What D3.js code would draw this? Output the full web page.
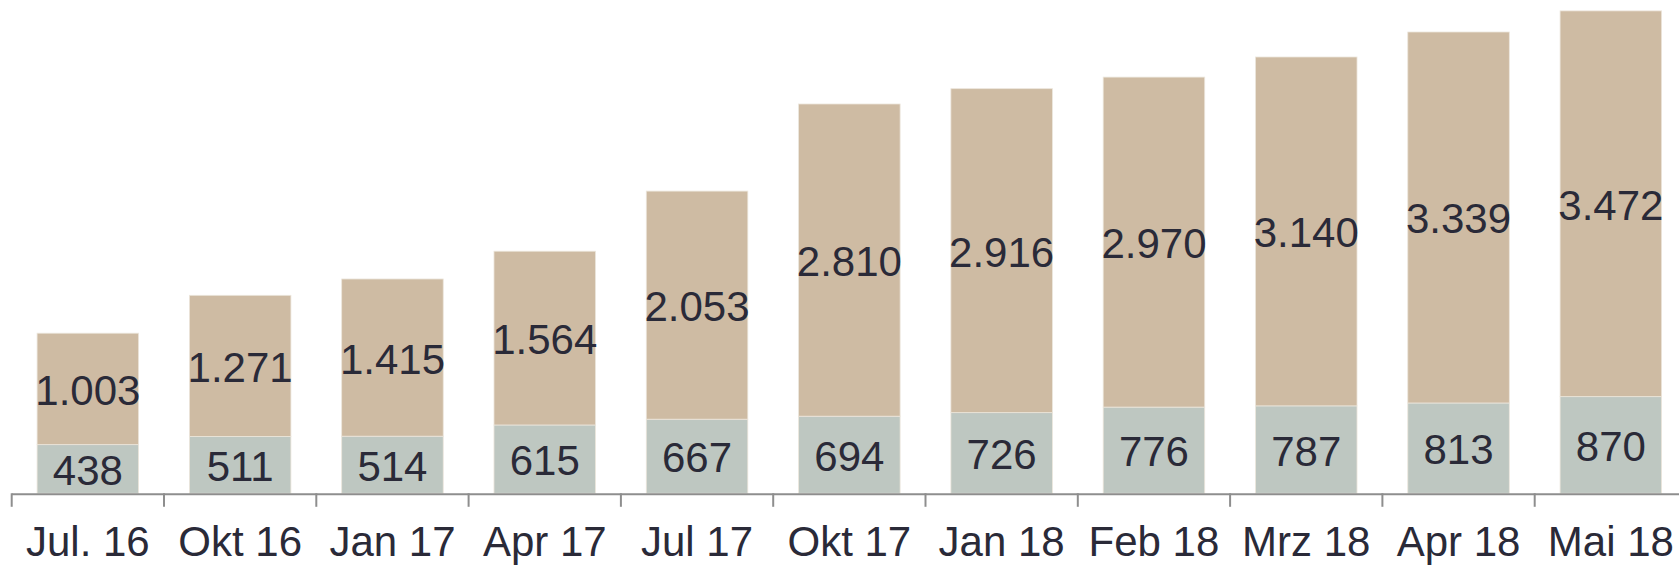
<!DOCTYPE html>
<html>
<head>
<meta charset="utf-8">
<script src="https://cdn.jsdelivr.net/npm/d3@7"></script>
<style>
    html, body { margin: 0; padding: 0; background: #fff; }
    svg { display: block; }
    text { font-family: "Liberation Sans", Arial, sans-serif; fill: #2a2a38; }
</style>
</head>
<body>
<div id="chart"></div>
<script>
// data
var categories = ["Jul. 16", "Okt 16", "Jan 17", "Apr 17", "Jul 17", "Okt 17", "Jan 18", "Feb 18", "Mrz 18", "Apr 18", "Mai 18"];
var lowerValues = [438, 511, 514, 615, 667, 694, 726, 776, 787, 813, 870];
var upperValues = [1003, 1271, 1415, 1564, 2053, 2810, 2916, 2970, 3140, 3339, 3472];

var seriesKeys = ["lower", "upper"];
var seriesColors = { lower: "#bec7c1", upper: "#cebba3" };

var width = 1679, height = 565;
var axisY = 493.3;

var rows = categories.map(function(c, i) {
    return { cat: c, lower: lowerValues[i], upper: upperValues[i] };
});

var svg = d3.select("#chart").append("svg")
    .attr("width", width)
    .attr("height", height);

var x = d3.scaleBand()
    .domain(categories)
    .range([11.7, 11.7 + 152.3 * categories.length])
    .paddingInner(1 / 3)
    .paddingOuter(1 / 6);

var y = d3.scaleLinear()
    .domain([0, 4440])
    .range([axisY, 0]);

var stacked = d3.stack().keys(seriesKeys)(rows);

// bars
var layers = svg.selectAll("g.layer")
    .data(stacked)
    .enter().append("g")
    .attr("class", "layer")
    .attr("fill", function(d) { return seriesColors[d.key]; });

layers.selectAll("rect")
    .data(function(d) { return d; })
    .enter().append("rect")
    .attr("x", function(d) { return x(d.data.cat); })
    .attr("y", function(d) { return y(d[1]); })
    .attr("width", x.bandwidth())
    .attr("height", function(d) { return y(d[0]) - y(d[1]); })
    .attr("stroke", "#ece6dc")
    .attr("stroke-width", 0.8);

// value labels, centred in each segment
layers.selectAll("text")
    .data(function(d) { return d; })
    .enter().append("text")
    .attr("x", function(d) { return x(d.data.cat) + x.bandwidth() / 2; })
    .attr("y", function(d) { return (y(d[0]) + y(d[1])) / 2 + 16; })
    .attr("text-anchor", "middle")
    .style("font-size", "42px")
    .text(function(d) {
        return d3.format(",")(d[1] - d[0]).replace(/,/g, ".");
    });

// x axis
var xAxis = d3.axisBottom(x).tickSize(0).tickFormat("");
var axisG = svg.append("g")
    .attr("transform", "translate(0," + axisY + ")")
    .call(xAxis);
axisG.select(".domain").remove();

axisG.append("line")
    .attr("x1", x.range()[0])
    .attr("x2", width)
    .attr("y1", 1)
    .attr("y2", 1)
    .attr("stroke", "#8e8e8e")
    .attr("stroke-width", 2);

// ticks sit at band borders
axisG.selectAll("line.sep")
    .data(categories)
    .enter().append("line")
    .attr("class", "sep")
    .attr("x1", function(d) { return x(d) - x.step() * x.paddingOuter(); })
    .attr("x2", function(d) { return x(d) - x.step() * x.paddingOuter(); })
    .attr("y1", 0)
    .attr("y2", 13.5)
    .attr("stroke", "#8e8e8e")
    .attr("stroke-width", 2);

// category labels
svg.selectAll("text.cat")
    .data(categories)
    .enter().append("text")
    .attr("class", "cat")
    .attr("x", function(d) { return x(d) + x.bandwidth() / 2; })
    .attr("y", 556)
    .attr("text-anchor", "middle")
    .style("font-size", "42px")
    .text(function(d) { return d; });
</script>
</body>
</html>
